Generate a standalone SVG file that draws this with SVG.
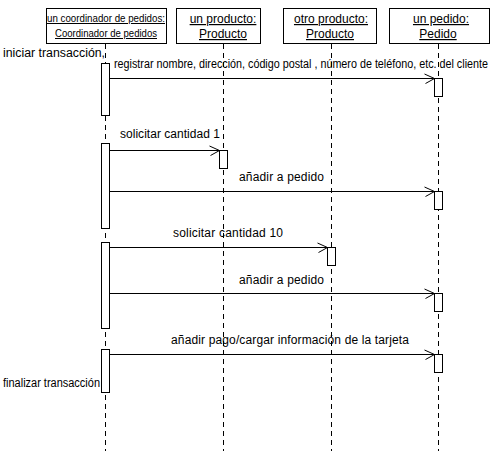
<svg xmlns="http://www.w3.org/2000/svg" width="496" height="466" viewBox="0 0 496 466">
<style>
text{font-family:"Liberation Sans",Arial,sans-serif;font-size:12px;fill:#000}
.hd{text-anchor:middle;text-decoration:underline}
.sm{font-size:10px;text-decoration:underline}
.box{fill:#fff;stroke:#000;stroke-width:1}
.life{stroke:#000;stroke-width:1;stroke-dasharray:5,4;fill:none}
.act{fill:#fff;stroke:#000;stroke-width:1}
.msg{stroke:#000;stroke-width:1;fill:none;marker-end:url(#open)}
</style>
<defs>
<marker id="open" markerUnits="userSpaceOnUse" markerWidth="12" markerHeight="12" refX="10" refY="5" orient="auto" overflow="visible">
<path d="M0,0.5 L10,5 L1,10" fill="none" stroke="#000" stroke-width="1"/>
</marker>
</defs>
<rect width="496" height="466" fill="#fff"/>

<g id="coordinador">
<rect class="box" x="46.5" y="8.5" width="120" height="35"/>
<line class="life" x1="105.5" y1="44" x2="105.5" y2="451"/>
<text class="sm" x="47" y="22" textLength="118" lengthAdjust="spacingAndGlyphs">un coordinador de pedidos:</text>
<text class="sm" x="55" y="37" textLength="102" lengthAdjust="spacingAndGlyphs">Coordinador de pedidos</text>
<rect class="act" x="101.5" y="63.5" width="8" height="52"/>
<rect class="act" x="101.5" y="143.5" width="8" height="85"/>
<rect class="act" x="101.5" y="242.5" width="8" height="86"/>
<rect class="act" x="101.5" y="349.5" width="8" height="43"/>
<text x="3" y="57" textLength="102" lengthAdjust="spacingAndGlyphs">iniciar transacción,</text>
<text x="3" y="387" textLength="97" lengthAdjust="spacingAndGlyphs">finalizar transacción</text>
</g>

<g id="producto1">
<rect class="box" x="176.5" y="8.5" width="84" height="35"/>
<line class="life" x1="223.5" y1="44" x2="223.5" y2="451"/>
<text class="hd" x="223" y="23">un producto:</text>
<text class="hd" x="223" y="38">Producto</text>
<rect class="act" x="219.5" y="150.5" width="8" height="18"/>
</g>

<g id="producto2">
<rect class="box" x="283.5" y="8.5" width="93" height="35"/>
<line class="life" x1="331.5" y1="44" x2="331.5" y2="451"/>
<text class="hd" x="331" y="23">otro producto:</text>
<text class="hd" x="330" y="38">Producto</text>
<rect class="act" x="327.5" y="247.5" width="8" height="18"/>
</g>

<g id="pedido">
<rect class="box" x="389.5" y="8.5" width="100" height="35"/>
<line class="life" x1="438.5" y1="44" x2="438.5" y2="451"/>
<text class="hd" x="441" y="23">un pedido:</text>
<text class="hd" x="438" y="38">Pedido</text>
<rect class="act" x="434.5" y="78.5" width="8" height="18"/>
<rect class="act" x="434.5" y="191.5" width="8" height="18"/>
<rect class="act" x="434.5" y="293.5" width="8" height="18"/>
<rect class="act" x="434.5" y="354.5" width="8" height="18"/>
</g>

<g id="connectors">
<line class="msg" x1="109.5" y1="78.5" x2="434.5" y2="78.5"/>
<text x="114" y="68" textLength="374" lengthAdjust="spacingAndGlyphs">registrar nombre, dirección, código postal , número de teléfono, etc. del cliente</text>
<line class="msg" x1="109.5" y1="150.5" x2="219.5" y2="150.5"/>
<text x="120" y="138" textLength="100">solicitar cantidad 1</text>
<line class="msg" x1="109.5" y1="191.5" x2="434.5" y2="191.5"/>
<text x="239" y="181" textLength="85">añadir a pedido</text>
<line class="msg" x1="109.5" y1="247.5" x2="327.5" y2="247.5"/>
<text x="173" y="237" textLength="110">solicitar cantidad 10</text>
<line class="msg" x1="109.5" y1="293.5" x2="434.5" y2="293.5"/>
<text x="239" y="284" textLength="85">añadir a pedido</text>
<line class="msg" x1="109.5" y1="354.5" x2="434.5" y2="354.5"/>
<text x="171" y="344" textLength="238">añadir pago/cargar información de la tarjeta</text>
</g>
</svg>
